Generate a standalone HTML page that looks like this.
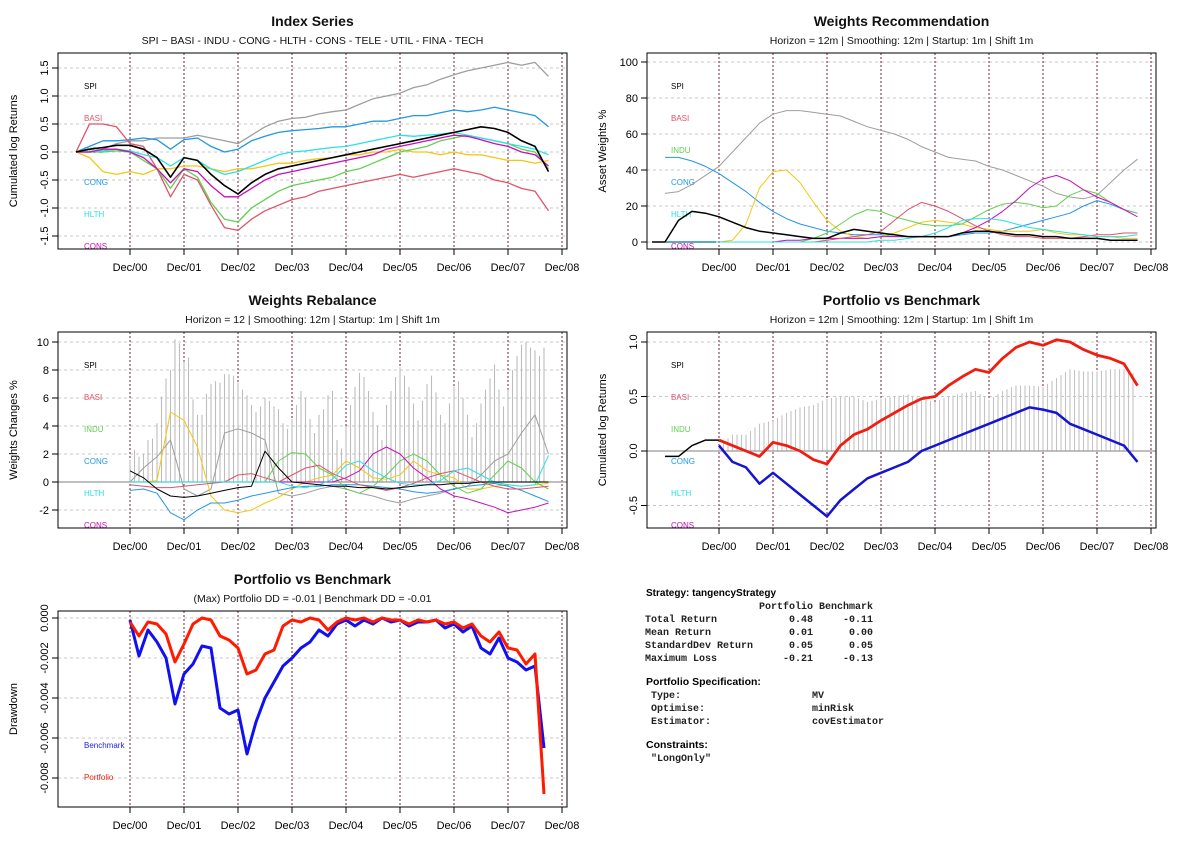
<!DOCTYPE html>
<html><head><meta charset="utf-8"><style>
html,body{margin:0;padding:0;background:#fff;}
svg{display:block;font-family:"Liberation Sans",sans-serif;}
.mono{font-family:"Liberation Mono",monospace;font-size:10px;font-weight:bold;fill:#222;white-space:pre;}
</style></head><body>
<svg id="s" width="1184" height="843" viewBox="0 0 1184 843">
<g>
<text x="646" y="596" font-size="10" font-weight="bold">Strategy: tangencyStrategy</text>
<text class="mono" x="645" y="609" xml:space="preserve">                   Portfolio Benchmark</text>
<text class="mono" x="645" y="622" xml:space="preserve">Total Return            0.48     -0.11</text>
<text class="mono" x="645" y="635" xml:space="preserve">Mean Return             0.01      0.00</text>
<text class="mono" x="645" y="648" xml:space="preserve">StandardDev Return      0.05      0.05</text>
<text class="mono" x="645" y="661" xml:space="preserve">Maximum Loss           -0.21     -0.13</text>
<text x="646" y="685" font-size="10.5" font-weight="bold">Portfolio Specification:</text>
<text class="mono" x="651" y="698" xml:space="preserve">Type:</text>
<text class="mono" x="812" y="698">MV</text>
<text class="mono" x="651" y="711" xml:space="preserve">Optimise:</text>
<text class="mono" x="812" y="711">minRisk</text>
<text class="mono" x="651" y="724" xml:space="preserve">Estimator:</text>
<text class="mono" x="812" y="724">covEstimator</text>
<text x="646" y="748" font-size="10.5" font-weight="bold">Constraints:</text>
<text class="mono" x="651" y="761">"LongOnly"</text>
</g>
</svg>
<script>
// ---- data ----
const decLabels=["Dec/00","Dec/01","Dec/02","Dec/03","Dec/04","Dec/05","Dec/06","Dec/07","Dec/08"];
const legendNames=["SPI","BASI","INDU","CONG","HLTH","CONS"];
const idxBlack=[0,0.05,0.08,0.12,0.12,0.05,-0.1,-0.45,-0.1,-0.15,-0.4,-0.6,-0.75,-0.55,-0.4,-0.3,-0.25,-0.2,-0.15,-0.1,-0.05,0.0,0.05,0.1,0.15,0.2,0.25,0.3,0.35,0.4,0.45,0.42,0.35,0.2,0.1,-0.35];
const idxGray=[0,0.0,0.05,0.15,0.2,0.2,0.25,0.25,0.25,0.3,0.25,0.2,0.15,0.3,0.45,0.55,0.6,0.62,0.68,0.72,0.75,0.85,0.95,1.0,1.05,1.15,1.2,1.3,1.38,1.45,1.5,1.55,1.6,1.55,1.6,1.35];
const idxBlue=[0,0.1,0.2,0.2,0.22,0.25,0.22,0.05,0.22,0.25,0.1,0.0,0.05,0.2,0.28,0.35,0.38,0.4,0.42,0.45,0.45,0.5,0.55,0.55,0.6,0.65,0.65,0.7,0.75,0.72,0.75,0.8,0.75,0.7,0.65,0.45];
const idxRed=[0,0.5,0.5,0.45,0.15,0.1,-0.3,-0.8,-0.4,-0.5,-0.95,-1.35,-1.4,-1.2,-1.05,-0.95,-0.85,-0.8,-0.7,-0.65,-0.6,-0.55,-0.5,-0.45,-0.4,-0.45,-0.4,-0.35,-0.3,-0.35,-0.4,-0.5,-0.55,-0.65,-0.7,-1.05];
const idxGreen=[0,0,0,0.02,0,-0.15,-0.3,-0.65,-0.3,-0.45,-0.9,-1.2,-1.25,-1.0,-0.85,-0.7,-0.6,-0.55,-0.5,-0.45,-0.35,-0.3,-0.2,-0.1,0.0,0.05,0.1,0.2,0.25,0.3,0.25,0.2,0.15,0.05,0.0,-0.3];
const idxCyan=[0,0,0.02,0.05,0.02,-0.05,-0.1,-0.25,-0.1,-0.15,-0.3,-0.4,-0.35,-0.25,-0.15,-0.05,0,0.02,0.05,0.08,0.1,0.15,0.2,0.25,0.3,0.28,0.3,0.32,0.35,0.3,0.25,0.2,0.15,0.1,0.05,-0.05];
const idxMagenta=[0,0,0.05,0.05,0.0,-0.1,-0.3,-0.55,-0.3,-0.35,-0.6,-0.8,-0.8,-0.65,-0.5,-0.4,-0.35,-0.3,-0.25,-0.2,-0.15,-0.1,-0.05,0.05,0.1,0.15,0.2,0.25,0.3,0.28,0.22,0.15,0.1,0.0,-0.05,-0.25];
const idxYellow=[0,-0.1,-0.35,-0.4,-0.35,-0.4,-0.3,-0.3,-0.25,-0.25,-0.3,-0.35,-0.3,-0.3,-0.25,-0.2,-0.2,-0.15,-0.12,-0.1,-0.05,-0.05,0.0,0.0,0.05,0.0,0.0,-0.05,0.0,-0.05,-0.05,-0.1,-0.15,-0.15,-0.2,-0.15];

const wGray=[27,28,32,37,42,50,58,66,71,73,73,72,71,70,67,64,62,60,57,53,50,47,46,45,42,40,37,34,31,27,25,24,26,33,40,46];
const wBlue=[47,47,45,42,38,33,28,22,17,13,10,8,6,5,4,4,4,3,3,3,3,3,4,5,5,6,8,10,12,14,16,20,23,21,18,16];
const wBlack=[0,12,17,16,14,11,8,6,5,4,3,2,2,5,7,6,5,4,3,3,3,3,5,6,6,5,4,4,3,3,2,2,2,1,1,1];
const wYellow=[0,0,0,0,0,1,10,30,39,40,33,22,12,6,3,2,3,5,8,11,12,11,10,8,7,6,6,6,7,5,4,4,3,3,2,2];
const wGreen=[0,0,0,0,0,0,0,0,0,0,0,2,5,10,15,18,17,14,12,10,9,9,10,14,18,21,22,21,19,20,26,29,27,22,18,16];
const wMagenta=[0,0,0,0,0,0,0,0,0,1,1,2,2,2,2,2,3,3,3,3,3,3,5,8,12,17,23,30,35,37,34,29,25,22,18,14];
const wRed=[0,0,0,0,0,0,0,0,0,0,0,0,1,2,3,4,6,12,18,22,20,17,13,9,6,4,3,3,2,2,2,3,4,4,5,5];
const wCyan=[0,0,0,0,0,0,0,0,0,0,0,0,0,0,0,0,1,1,2,3,5,8,12,13,13,12,10,8,7,6,5,4,3,3,3,4];

const rbBars=[1.6,2.3,1.8,2.0,3.0,3.1,4.2,6.1,7.4,8.0,10.2,9.9,8.6,8.9,5.9,4.8,4.8,6.3,7.0,7.2,7.1,7.7,7.7,7.6,7.1,6.6,6.2,5.5,5.0,5.4,6.0,5.8,5.4,5.2,4.2,3.8,4.5,5.5,6.5,6.0,4.5,3.5,4.8,5.2,6.2,6.5,3.0,2.4,4.0,5.5,6.8,7.8,7.5,6.5,5.0,4.0,3.0,5.5,6.5,7.5,8.2,7.6,6.8,5.6,4.4,5.8,7.0,7.6,6.4,4.8,4.2,5.6,6.8,7.2,6.0,4.8,3.2,4.2,5.6,6.6,7.4,8.4,6.6,5.4,6.6,8.0,9.0,9.8,10.0,9.6,9.4,9.0,9.6];
const rbYellow=[0,0,0.1,5.0,4.4,2.5,-1.0,-2.0,-2.2,-2.0,-1.5,-1.1,-0.5,0.0,0.3,0.5,1.5,1.0,0.3,0.2,0.5,1.5,0.8,0.5,0.3,-0.5,-0.5,-0.3,-0.2,-0.3,-0.2,-0.1];
const rbGray=[0,1.0,1.8,3.0,-0.5,-1.0,-0.5,3.5,3.8,3.5,3.0,-0.8,-1.0,-0.8,-0.5,-0.3,-0.5,-0.8,-1.0,-1.3,-1.5,-1.2,-1.0,-0.8,-0.5,-0.3,0.5,1.5,2.0,3.5,4.8,2.0];
const rbBlue=[-0.6,-0.5,-0.8,-2.2,-2.7,-2.0,-1.5,-1.5,-1.3,-1.0,-0.8,-0.6,-0.4,-0.3,-0.3,-0.2,-0.2,-0.2,-0.3,-0.4,-0.5,-0.7,-0.8,-0.7,-0.5,-0.3,-0.2,-0.1,-0.3,-0.6,-1.0,-1.4];
const rbBlack=[0.8,0.3,-0.5,-1.0,-1.1,-1.0,-0.8,-0.6,-0.4,-0.3,2.2,1.0,0.0,-0.1,-0.2,-0.3,-0.3,-0.4,-0.4,-0.5,-0.4,-0.3,-0.2,-0.2,-0.1,-0.1,0,0,0,0,0,0];
const rbGreen=[0,0,0,0,0,0,0,0,0,0,0,1.5,2.1,2.0,1.0,0.5,-0.5,-0.8,-0.3,0.5,1.5,2.0,1.5,0.5,-0.3,-0.8,-0.5,0.5,1.5,1.0,0.0,-0.5];
const rbMagenta=[0,0,0,0,0,0,0,0,0,0,0,0,0,0,0,0,0.3,0.8,2.0,2.5,2.0,1.0,0.3,-0.5,-1.0,-1.2,-1.5,-1.8,-2.2,-2.0,-1.8,-1.5];
const rbRed=[-0.2,-0.3,-0.4,-0.4,-0.3,-0.2,-0.1,0,0.5,0.6,0.3,0.0,0.5,1.0,1.2,0.6,0.2,-0.2,-0.4,-0.6,-0.4,-0.1,0.3,0.6,0.8,0.4,0.0,-0.3,-0.5,-0.5,-0.4,-0.3];
const rbCyan=[0,0,0,0,0,0,0,0,0,0,0,0,-0.3,-0.4,-0.2,0.2,1.2,1.5,0.8,0.3,-0.1,-0.2,-0.2,0.1,0.8,1.0,0.5,0.0,-0.2,-0.3,-0.2,1.9];

const pvPortfolio=[0.1,0.05,0.0,-0.05,0.08,0.05,0.0,-0.08,-0.12,0.05,0.15,0.2,0.28,0.35,0.42,0.48,0.5,0.6,0.68,0.75,0.72,0.85,0.95,1.0,0.97,1.02,1.0,0.93,0.88,0.85,0.8,0.6];
const pvBenchmark=[0.05,-0.1,-0.15,-0.3,-0.2,-0.3,-0.4,-0.5,-0.6,-0.45,-0.35,-0.25,-0.2,-0.15,-0.1,0.0,0.05,0.1,0.15,0.2,0.25,0.3,0.35,0.4,0.38,0.35,0.25,0.2,0.15,0.1,0.05,-0.1];
const pvPre=[-0.05,-0.05,0.05,0.1,0.1];

const ddPortfolio=[-0.2,-0.9,-0.2,-0.3,-0.8,-2.2,-1.3,-0.3,0,-0.1,-0.9,-1.1,-1.5,-2.8,-2.6,-1.8,-1.6,-0.4,-0.1,-0.2,0,-0.1,-0.6,-0.2,0,-0.1,0,-0.2,0,-0.1,-0.1,-0.3,-0.1,-0.2,-0.1,-0.3,-0.2,-0.5,-0.3,-0.9,-1.2,-0.7,-1.5,-1.6,-2.3,-1.8,-8.8];
const ddBenchmark=[-0.1,-1.9,-0.6,-1.2,-2.0,-4.3,-2.8,-2.3,-1.4,-1.5,-4.5,-4.8,-4.6,-6.8,-5.2,-4.0,-3.2,-2.4,-2.0,-1.5,-1.2,-0.6,-0.9,-0.3,-0.1,-0.4,-0.1,-0.3,0,-0.2,-0.1,-0.4,-0.2,-0.2,-0.1,-0.5,-0.3,-0.7,-0.4,-1.5,-1.8,-1.0,-2.0,-2.2,-2.6,-2.4,-6.5];

// ---- drawing ----
const NS="http://www.w3.org/2000/svg";
const svg=document.getElementById('s');
function el(tag,attrs,parent){const e=document.createElementNS(NS,tag);for(const k in attrs)e.setAttribute(k,attrs[k]);(parent||svg).appendChild(e);return e;}
const COL={black:"#000",red:"#DF536B",green:"#61D04F",blue:"#2297E6",cyan:"#28E2E5",magenta:"#CD0BBC",yellow:"#F5C710",gray:"#9E9E9E"};

function panel(o){
  const g=el('g',{});
  
  
  const X=t=>o.decX+(t-2001)*54;
  const Y=v=>o.y0v+(v-o.v0)*o.k;
  o.X=X;o.Y=Y;o.g=g;
  const cx=(o.bx0+o.bx1)/2;
  const tt=el('text',{x:cx,y:o.by0-27,'text-anchor':'middle','font-size':14,'font-weight':'bold',fill:'#111'},g);tt.textContent=o.title;
  
  
  const st=el('text',{x:cx,y:o.by0-9,'text-anchor':'middle','font-size':10.5,fill:'#111'},g);st.textContent=o.sub;
  
  
  o.ticks.forEach(v=>{
    const y=Y(v);
    el('line',{x1:o.bx0,x2:o.bx1,y1:y,y2:y,stroke:'#c8c8c8','stroke-dasharray':'3,3'},g);
    el('line',{x1:o.bx0,x2:o.bx0-6,y1:y,y2:y,stroke:'#000'},g);
    const lab=o.tickFmt(v);
    let t;
    if(o.rot){t=el('text',{x:o.bx0-10,y:y,'text-anchor':'middle','font-size':11,transform:`rotate(-90 ${o.bx0-10} ${y})`},g);}
    else{t=el('text',{x:o.bx0-9,y:y+4,'text-anchor':'end','font-size':11},g);}
    t.textContent=lab;
    
    
  });
  decLabels.forEach((d,i)=>{
    const x=X(2001+i);
    el('line',{x1:x,x2:x,y1:o.by0,y2:o.by1,stroke:'#7a1f3a','stroke-dasharray':'2,2'},g);
    el('line',{x1:x,x2:x,y1:o.by1,y2:o.by1+6,stroke:'#000'},g);
    const t=el('text',{x:x,y:o.by1+22,'text-anchor':'middle','font-size':11},g);t.textContent=d;
    
    
  });
  const yt=el('text',{x:o.ylx,y:(o.by0+o.by1)/2,'text-anchor':'middle','font-size':11,transform:`rotate(-90 ${o.ylx} ${(o.by0+o.by1)/2})`},g);yt.textContent=o.ylab;
  
  
  return o;
}
function frame(o){el('rect',{x:o.bx0,y:o.by0,width:o.bx1-o.bx0,height:o.by1-o.by0,fill:'none',stroke:'#000'},o.g);}
function line(o,arr,t0,dt,color,w,name){
  const pts=arr.map((v,i)=>o.X(t0+i*dt).toFixed(1)+','+o.Y(v).toFixed(1)).join(' ');
  const p=el('polyline',{points:pts,fill:'none',stroke:color,'stroke-width':w,'stroke-linejoin':'round'},o.g);
  
  
}
function legend(o,names,colors,x,y0,dy){
  names.forEach((n,i)=>{const t=el('text',{x:x,y:y0+i*dy,'font-size':8,fill:colors[i]},o.g);t.textContent=n;
    
    });
}
const legCols=[COL.black,COL.red,COL.green,COL.blue,COL.cyan,COL.magenta];

// Panel 1
const p1=panel({name:'index-series-panel',title:'Index Series',sub:'SPI ~ BASI - INDU - CONG - HLTH - CONS - TELE - UTIL - FINA - TECH',
 bx0:58,bx1:567,by0:53,by1:249,decX:130,v0:0,y0v:152,k:-56,ticks:[-1.5,-1,-0.5,0,0.5,1,1.5],tickFmt:v=>v.toFixed(1),rot:true,ylx:17,ylab:'Cumulated log Returns'});
legend(p1,legendNames,legCols,84,89,32);
[[idxGray,COL.gray,'series-util'],[idxBlue,COL.blue,'series-cong'],[idxRed,COL.red,'series-basi'],[idxYellow,COL.yellow,'series-tele'],[idxGreen,COL.green,'series-indu'],[idxCyan,COL.cyan,'series-hlth'],[idxMagenta,COL.magenta,'series-cons']].forEach(s=>line(p1,s[0],2000,0.25,s[1],1.3,s[2]));
line(p1,idxBlack,2000,0.25,COL.black,1.6,'series-spi');
frame(p1);

// Panel 2
const p2=panel({name:'weights-recommendation-panel',title:'Weights Recommendation',sub:'Horizon =  12m | Smoothing: 12m | Startup: 1m | Shift 1m',
 bx0:647,bx1:1156,by0:53,by1:249,decX:719,v0:0,y0v:242,k:-1.8,ticks:[0,20,40,60,80,100],tickFmt:v=>String(v),rot:false,ylx:606,ylab:'Asset Weights %'});
legend(p2,legendNames,legCols,671,89,32);
el('line',{x1:652,x2:716,y1:242,y2:242,stroke:'#000','stroke-width':1.5},p2.g);
[[wGray,COL.gray,'weight-util'],[wBlue,COL.blue,'weight-cong'],[wYellow,COL.yellow,'weight-tele'],[wGreen,COL.green,'weight-indu'],[wMagenta,COL.magenta,'weight-cons'],[wRed,COL.red,'weight-basi'],[wCyan,COL.cyan,'weight-hlth']].forEach(s=>line(p2,s[0],2000,0.25,s[1],1,s[2]));
line(p2,wBlack,2000,0.25,COL.black,1.5,'weight-spi');
frame(p2);

// Panel 3
const p3=panel({name:'weights-rebalance-panel',title:'Weights Rebalance',sub:'Horizon =  12 | Smoothing: 12m | Startup: 1m | Shift 1m',
 bx0:58,bx1:567,by0:332,by1:528,decX:130,v0:0,y0v:482,k:-14,ticks:[-2,0,2,4,6,8,10],tickFmt:v=>String(v),rot:false,ylx:17,ylab:'Weights Changes %'});
legend(p3,legendNames,legCols,84,368,32);
rbBars.forEach((v,i)=>{const x=p3.X(2001+i/12);const b=el('line',{x1:x,x2:x,y1:p3.Y(0),y2:p3.Y(v),stroke:'#bdbdbd','stroke-width':1.1},p3.g);
  
  });
el('line',{x1:58,x2:567,y1:482,y2:482,stroke:'#999','stroke-width':1.2},p3.g);
[[rbGray,COL.gray,'change-util'],[rbYellow,COL.yellow,'change-tele'],[rbBlue,COL.blue,'change-cong'],[rbGreen,COL.green,'change-indu'],[rbMagenta,COL.magenta,'change-cons'],[rbRed,COL.red,'change-basi'],[rbCyan,COL.cyan,'change-hlth'],[rbBlack,COL.black,'change-spi']].forEach(s=>line(p3,s[0],2001,0.25,s[1],1,s[2]));
frame(p3);

// Panel 4
const p4=panel({name:'portfolio-vs-benchmark-panel',title:'Portfolio vs Benchmark',sub:'Horizon =  12m | Smoothing: 12m | Startup: 1m | Shift 1m',
 bx0:647,bx1:1156,by0:332,by1:528,decX:719,v0:0,y0v:451,k:-109,ticks:[-0.5,0,0.5,1],tickFmt:v=>v.toFixed(1),rot:true,ylx:606,ylab:'Cumulated log Returns'});
legend(p4,legendNames,legCols,671,368,32);
function interp(arr,t0,dt,t){const f=(t-t0)/dt;const i=Math.max(0,Math.min(arr.length-2,Math.floor(f)));const r=f-i;return arr[i]*(1-r)+arr[i+1]*r;}
for(let m=0;m<93;m++){const t=2001+m/12;const d=interp(pvPortfolio,2001,0.25,t)-interp(pvBenchmark,2001,0.25,t);const x=p4.X(t);
  const b=el('line',{x1:x,x2:x,y1:p4.Y(0),y2:p4.Y(d),stroke:'#c4c4c4','stroke-width':1.1},p4.g);
  
  }
el('line',{x1:647,x2:1156,y1:451,y2:451,stroke:'#999','stroke-width':1.2},p4.g);
line(p4,pvPre,2000,0.25,COL.black,1.5,'pre-startup-series');
line(p4,pvBenchmark,2001,0.25,'#1515d0',2.5,'benchmark-series');
line(p4,pvPortfolio,2001,0.25,'#f01e10',2.8,'portfolio-series');
frame(p4);

// Panel 5
const p5=panel({name:'drawdown-panel',title:'Portfolio vs Benchmark',sub:'(Max) Portfolio DD = -0.01 | Benchmark DD = -0.01',
 bx0:58,bx1:567,by0:611,by1:807,decX:130,v0:0,y0v:618,k:-20,ticks:[-8,-6,-4,-2,0],tickFmt:v=>(v/1000).toFixed(3),rot:true,ylx:17,ylab:'Drawdown'});
legend(p5,['Benchmark','Portfolio'],['#2222dd','#ee2211'],84,748,32);
line(p5,ddBenchmark,2001,1/6,'#1010f0',3,'benchmark-drawdown');
line(p5,ddPortfolio,2001,1/6,'#ff1a00',3,'portfolio-drawdown');
frame(p5);
</script>
</body></html>
